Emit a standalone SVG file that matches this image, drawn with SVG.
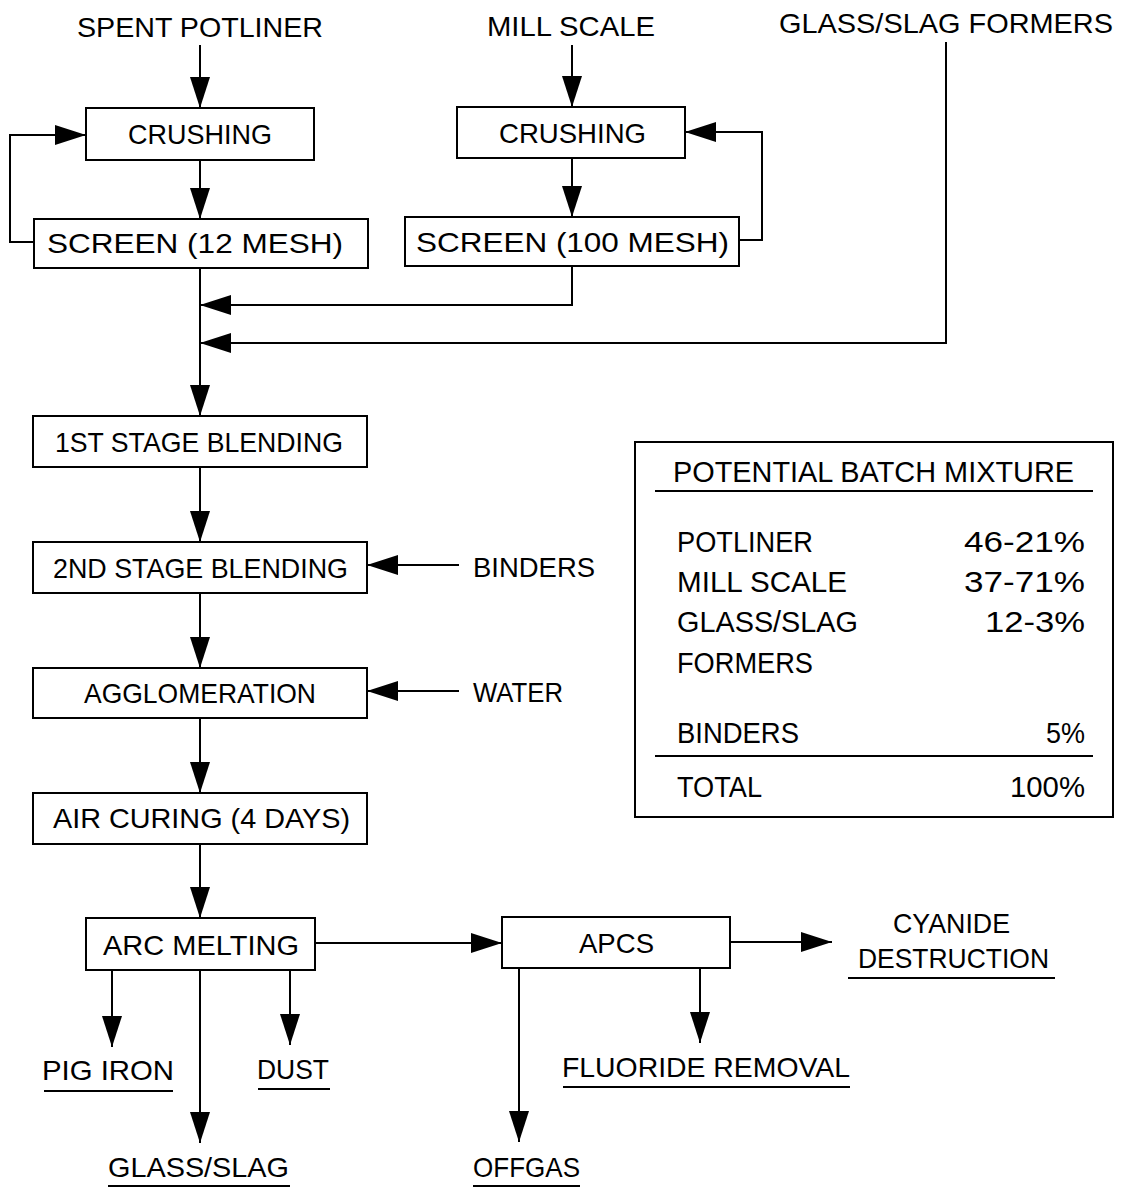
<svg xmlns="http://www.w3.org/2000/svg" width="1124" height="1188" viewBox="0 0 1124 1188">
<style>
.t{font-family:"Liberation Sans","DejaVu Sans",Arial,sans-serif;font-size:28px;fill:#000}
.tt{font-family:"Liberation Sans","DejaVu Sans",Arial,sans-serif;font-size:29px;fill:#000}
.b{fill:#fff;stroke:#000;stroke-width:2}
.c{fill:none;stroke:#000;stroke-width:2}
.a{marker-end:url(#ah)}
.u{stroke:#000;stroke-width:2}
</style>
<defs>
<marker id="ah" markerUnits="userSpaceOnUse" markerWidth="31" markerHeight="20" refX="31" refY="10" orient="auto">
<path d="M0,0 L31,10 L0,20 z" fill="#000"/>
</marker>
</defs>
<rect width="1124" height="1188" fill="#fff"/>
<g id="connectors">
<line class="c a" x1="200" y1="45" x2="200" y2="108"/>
<line class="c a" x1="200" y1="160" x2="200" y2="219"/>
<polyline class="c a" points="34,242 10,242 10,135 86,135"/>
<line class="c a" x1="572" y1="45" x2="572" y2="107"/>
<line class="c a" x1="572" y1="158" x2="572" y2="217"/>
<polyline class="c a" points="739,240 762,240 762,132 685,132"/>
<line class="c a" x1="200" y1="268" x2="200" y2="416"/>
<polyline class="c a" points="572,266 572,305 200,305"/>
<polyline class="c a" points="946,42 946,343 200,343"/>
<line class="c a" x1="200" y1="467" x2="200" y2="542"/>
<line class="c a" x1="459" y1="565" x2="367" y2="565"/>
<line class="c a" x1="200" y1="593" x2="200" y2="668"/>
<line class="c a" x1="459" y1="691" x2="367" y2="691"/>
<line class="c a" x1="200" y1="718" x2="200" y2="793"/>
<line class="c a" x1="200" y1="844" x2="200" y2="918"/>
<line class="c a" x1="315" y1="943" x2="502" y2="943"/>
<line class="c a" x1="730" y1="942" x2="832" y2="942"/>
<line class="c a" x1="112" y1="970" x2="112" y2="1047"/>
<line class="c a" x1="200" y1="970" x2="200" y2="1143"/>
<line class="c a" x1="290" y1="970" x2="290" y2="1045"/>
<line class="c a" x1="519" y1="968" x2="519" y2="1142"/>
<line class="c a" x1="700" y1="968" x2="700" y2="1043"/>
</g>
<g id="in-spent-potliner"><text class="t" x="77" y="37" textLength="246" lengthAdjust="spacingAndGlyphs">SPENT POTLINER</text></g>
<g id="in-mill-scale"><text class="t" x="487" y="36" textLength="168" lengthAdjust="spacingAndGlyphs">MILL SCALE</text></g>
<g id="in-glass-slag-formers"><text class="t" x="779" y="33" textLength="334" lengthAdjust="spacingAndGlyphs">GLASS/SLAG FORMERS</text></g>
<g id="crushing-1"><rect class="b" x="86" y="108" width="228" height="52"/><text class="t" x="128" y="144" textLength="144" lengthAdjust="spacingAndGlyphs">CRUSHING</text></g>
<g id="screen-12"><rect class="b" x="34" y="219" width="334" height="49"/><text class="t" x="47" y="253" textLength="296" lengthAdjust="spacingAndGlyphs">SCREEN (12 MESH)</text></g>
<g id="crushing-2"><rect class="b" x="457" y="107" width="228" height="51"/><text class="t" x="499" y="143" textLength="147" lengthAdjust="spacingAndGlyphs">CRUSHING</text></g>
<g id="screen-100"><rect class="b" x="405" y="217" width="334" height="49"/><text class="t" x="416" y="252" textLength="313" lengthAdjust="spacingAndGlyphs">SCREEN (100 MESH)</text></g>
<g id="blend-1"><rect class="b" x="33" y="416" width="334" height="51"/><text class="t" x="55" y="452" textLength="288" lengthAdjust="spacingAndGlyphs">1ST STAGE BLENDING</text></g>
<g id="blend-2"><rect class="b" x="33" y="542" width="334" height="51"/><text class="t" x="53" y="578" textLength="295" lengthAdjust="spacingAndGlyphs">2ND STAGE BLENDING</text></g>
<g id="in-binders"><text class="t" x="473" y="577" textLength="122" lengthAdjust="spacingAndGlyphs">BINDERS</text></g>
<g id="agglomeration"><rect class="b" x="33" y="668" width="334" height="50"/><text class="t" x="84" y="703" textLength="232" lengthAdjust="spacingAndGlyphs">AGGLOMERATION</text></g>
<g id="in-water"><text class="t" x="473" y="702" textLength="90" lengthAdjust="spacingAndGlyphs">WATER</text></g>
<g id="air-curing"><rect class="b" x="33" y="793" width="334" height="51"/><text class="t" x="53" y="828" textLength="297" lengthAdjust="spacingAndGlyphs">AIR CURING (4 DAYS)</text></g>
<g id="arc-melting"><rect class="b" x="86" y="918" width="229" height="52"/><text class="t" x="103" y="955" textLength="196" lengthAdjust="spacingAndGlyphs">ARC MELTING</text></g>
<g id="apcs"><rect class="b" x="502" y="917" width="228" height="51"/><text class="t" x="579" y="953" textLength="75" lengthAdjust="spacingAndGlyphs">APCS</text></g>
<g id="out-cyanide"><text class="t" x="893" y="933" textLength="117" lengthAdjust="spacingAndGlyphs">CYANIDE</text><text class="t" x="858" y="968" textLength="191" lengthAdjust="spacingAndGlyphs">DESTRUCTION</text><line class="u" x1="848" y1="978" x2="1055" y2="978"/></g>
<g id="out-pig-iron"><text class="t" x="42" y="1080" textLength="132" lengthAdjust="spacingAndGlyphs">PIG IRON</text><line class="u" x1="44" y1="1091" x2="173" y2="1091"/></g>
<g id="out-dust"><text class="t" x="257" y="1079" textLength="72" lengthAdjust="spacingAndGlyphs">DUST</text><line class="u" x1="258" y1="1089" x2="330" y2="1089"/></g>
<g id="out-fluoride"><text class="t" x="562" y="1077" textLength="288" lengthAdjust="spacingAndGlyphs">FLUORIDE REMOVAL</text><line class="u" x1="563" y1="1087" x2="850" y2="1087"/></g>
<g id="out-glass-slag"><text class="t" x="108" y="1177" textLength="181" lengthAdjust="spacingAndGlyphs">GLASS/SLAG</text><line class="u" x1="108" y1="1186" x2="290" y2="1186"/></g>
<g id="out-offgas"><text class="t" x="473" y="1177" textLength="107" lengthAdjust="spacingAndGlyphs">OFFGAS</text><line class="u" x1="473" y1="1186" x2="580" y2="1186"/></g>
<g id="batch-table">
<rect class="b" x="635" y="442" width="478" height="375"/>
<text class="tt" x="673" y="482" textLength="401" lengthAdjust="spacingAndGlyphs">POTENTIAL BATCH MIXTURE</text>
<line class="u" x1="655" y1="491" x2="1093" y2="491"/>
<text class="tt" x="677" y="552" textLength="136" lengthAdjust="spacingAndGlyphs">POTLINER</text>
<text class="tt" x="964" y="552" textLength="121" lengthAdjust="spacingAndGlyphs">46-21%</text>
<text class="tt" x="677" y="592" textLength="170" lengthAdjust="spacingAndGlyphs">MILL SCALE</text>
<text class="tt" x="964" y="592" textLength="121" lengthAdjust="spacingAndGlyphs">37-71%</text>
<text class="tt" x="677" y="632" textLength="181" lengthAdjust="spacingAndGlyphs">GLASS/SLAG</text>
<text class="tt" x="985" y="632" textLength="100" lengthAdjust="spacingAndGlyphs">12-3%</text>
<text class="tt" x="677" y="673" textLength="136" lengthAdjust="spacingAndGlyphs">FORMERS</text>
<text class="tt" x="677" y="743" textLength="122" lengthAdjust="spacingAndGlyphs">BINDERS</text>
<text class="tt" x="1046" y="743" textLength="39" lengthAdjust="spacingAndGlyphs">5%</text>
<line class="u" x1="655" y1="756" x2="1093" y2="756"/>
<text class="tt" x="677" y="797" textLength="85" lengthAdjust="spacingAndGlyphs">TOTAL</text>
<text class="tt" x="1010" y="797" textLength="75" lengthAdjust="spacingAndGlyphs">100%</text>
</g>
</svg>
